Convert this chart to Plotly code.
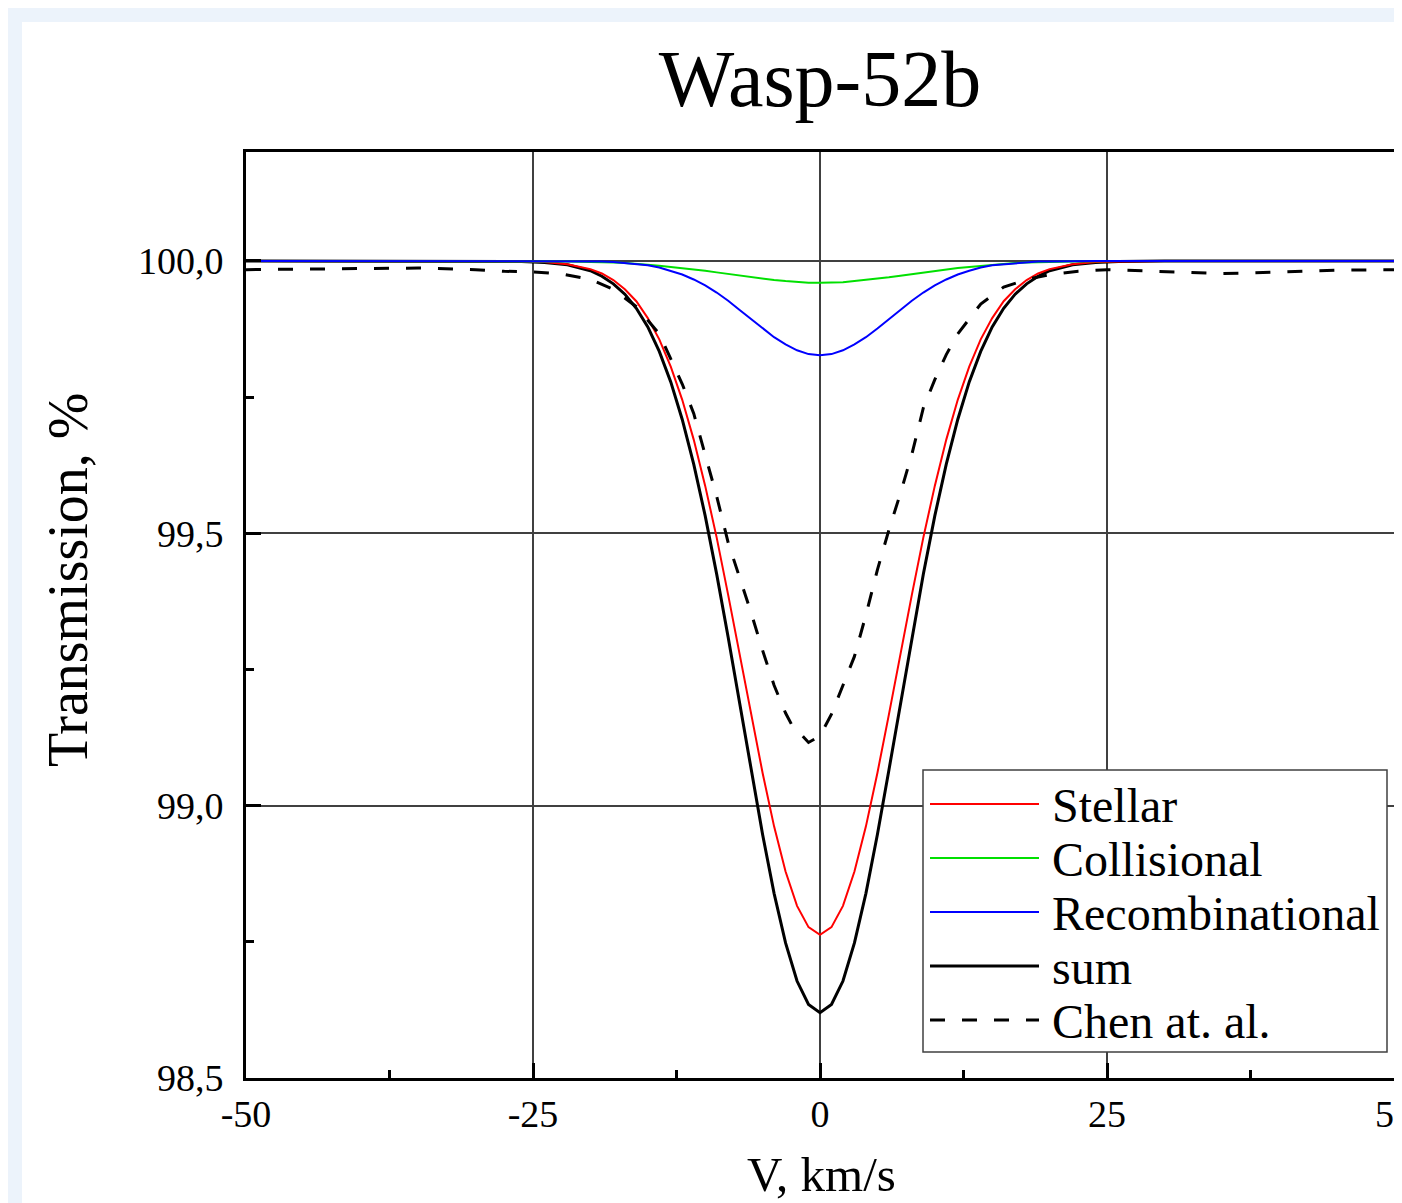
import plotly.graph_objects as go

# ---------------- data ----------------
V = [-50, -40, -30, -26, -24, -22, -20, -19, -18, -17, -16, -15, -14, -13, -12, -11, -10,
     -9, -8, -7, -6, -5, -4, -3, -2, -1, 0, 1, 2, 3, 4, 5, 6, 7, 8, 9,
     10, 11, 12, 13, 14, 15, 16, 17, 18, 19, 20, 22, 24, 26, 30, 40, 50]

stellar = [100.000, 100.000, 100.000, 99.999, 99.998, 99.994, 99.985, 99.977, 99.965, 99.948,
           99.926, 99.895, 99.856, 99.806, 99.745, 99.672, 99.587, 99.492, 99.387, 99.278,
           99.167, 99.060, 98.962, 98.879, 98.816, 98.777, 98.763, 98.777, 98.816, 98.879,
           98.962, 99.060, 99.167, 99.278, 99.387, 99.492, 99.587, 99.672, 99.745, 99.806,
           99.856, 99.895, 99.926, 99.948, 99.965, 99.977, 99.985, 99.994, 99.998, 99.999,
           100.000, 100.000, 100.000]

collisional = [100.000, 100.000, 100.000, 100.000, 100.000, 99.999, 99.998, 99.998, 99.997, 99.996,
               99.995, 99.993, 99.991, 99.989, 99.987, 99.984, 99.982, 99.979, 99.976, 99.973,
               99.970, 99.967, 99.965, 99.963, 99.961, 99.960, 99.960, 99.960, 99.961, 99.963,
               99.965, 99.967, 99.970, 99.973, 99.976, 99.979, 99.982, 99.984, 99.987, 99.989,
               99.991, 99.993, 99.995, 99.996, 99.997, 99.998, 99.998, 99.999, 100.000, 100.000,
               100.000, 100.000, 100.000]

recombinational = [100.000, 100.000, 100.000, 100.000, 100.000, 100.000, 99.999, 99.999, 99.998, 99.996,
                   99.994, 99.992, 99.988, 99.982, 99.975, 99.966, 99.955, 99.942, 99.927, 99.910,
                   99.893, 99.876, 99.860, 99.847, 99.836, 99.829, 99.827, 99.829, 99.836, 99.847,
                   99.860, 99.876, 99.893, 99.910, 99.927, 99.942, 99.955, 99.966, 99.975, 99.982,
                   99.988, 99.992, 99.994, 99.996, 99.998, 99.999, 99.999, 100.000, 100.000, 100.000,
                   100.000, 100.000, 100.000]

total = [100.000, 100.000, 100.000, 99.999, 99.997, 99.993, 99.982, 99.972, 99.958, 99.939,
         99.913, 99.879, 99.834, 99.778, 99.709, 99.627, 99.532, 99.425, 99.309, 99.187,
         99.065, 98.947, 98.839, 98.748, 98.678, 98.635, 98.620, 98.635, 98.678, 98.748,
         98.839, 98.947, 99.065, 99.187, 99.309, 99.425, 99.532, 99.627, 99.709, 99.778,
         99.834, 99.879, 99.913, 99.939, 99.958, 99.972, 99.982, 99.993, 99.997, 99.999,
         100.000, 100.000, 100.000]

chen_v = [-50, -45, -40, -35, -30, -27.5, -25, -22.5, -20, -18, -16, -14, -13, -12, -11, -10,
          -9, -8, -7, -6, -5, -4, -3, -2.5, -1, 0, 1, 2, 3, 4, 5, 6, 7, 8, 9, 10, 11, 12,
          14, 16, 18, 20, 22.5, 25, 27.5, 30, 32.5, 35, 37.5, 40, 45, 50]
chen_t = [99.984, 99.985, 99.986, 99.987, 99.984, 99.981, 99.980, 99.976, 99.966, 99.948,
          99.916, 99.866, 99.820, 99.774, 99.720, 99.645, 99.568, 99.483, 99.419, 99.354,
          99.285, 99.221, 99.170, 99.150, 99.116, 99.128, 99.168, 99.221, 99.274, 99.350,
          99.433, 99.506, 99.573, 99.645, 99.730, 99.782, 99.828, 99.866, 99.921, 99.952,
          99.966, 99.975, 99.981, 99.984, 99.982, 99.980, 99.978, 99.977, 99.978, 99.980,
          99.983, 99.984]

x_ticks = [-50, -25, 0, 25, 50]
x_ticktext = ["-50", "-25", "0", "25", "50"]
x_minor = [-37.5, -12.5, 12.5, 37.5]
y_ticks = [98.5, 99.0, 99.5, 100.0]
y_ticktext = ["98,5", "99,0", "99,5", "100,0"]
y_minor = [98.75, 99.25, 99.75]

legend_names = ["Stellar", "Collisional", "Recombinational", "sum", "Chen at. al."]
legend_colors = ["#ff0000", "#00e000", "#0000ff", "#000000", "#000000"]

FONT = "Liberation Serif, Times New Roman, serif"

# ---------------- figure ----------------
fig = go.Figure()
fig.add_trace(go.Scatter(x=V, y=total, mode="lines", name="sum",
                         line=dict(color="#000000", width=3)))
fig.add_trace(go.Scatter(x=V, y=stellar, mode="lines", name="Stellar",
                         line=dict(color="#ff0000", width=2)))
fig.add_trace(go.Scatter(x=V, y=collisional, mode="lines", name="Collisional",
                         line=dict(color="#00e000", width=2)))
fig.add_trace(go.Scatter(x=V, y=recombinational, mode="lines", name="Recombinational",
                         line=dict(color="#0000ff", width=2)))
fig.add_trace(go.Scatter(x=chen_v, y=chen_t, mode="lines", name="Chen at. al.",
                         line=dict(color="#000000", width=3, dash="15px,17px")))

# page is rendered with an 8px body margin -> work in page pixels, convert to figure pixels
OFF = 8
FIG_W, FIG_H = 1402 - OFF, 1203 - OFF
L, R, T, B = 246 - OFF, 1394 - OFF, 152 - OFF, 1078 - OFF
W, H = R - L, B - T
def px(x):
    return (x - OFF - L) / W
def py(y):
    return (B - (y - OFF)) / H

shapes = []
# white panel on the light-blue page
shapes.append(dict(type="rect", xref="paper", yref="paper", layer="below",
                   x0=px(22), x1=px(1430), y0=py(1240), y1=py(22),
                   fillcolor="white", line=dict(width=0)))
# legend box
shapes.append(dict(type="rect", xref="paper", yref="paper", layer="above",
                   x0=px(923), x1=px(1387), y0=py(1052), y1=py(770),
                   fillcolor="white", line=dict(color="#404040", width=1.5)))
annotations = []
rows = [804, 858, 912, 966, 1020]
for i, (name, col) in enumerate(zip(legend_names, legend_colors)):
    lw = 3 if name in ("sum", "Chen at. al.") else 2
    dash = "15px,17px" if name == "Chen at. al." else "solid"
    shapes.append(dict(type="line", xref="paper", yref="paper", layer="above",
                       x0=px(930), x1=px(1039), y0=py(rows[i]), y1=py(rows[i]),
                       line=dict(color=col, width=lw, dash=dash)))
    annotations.append(dict(text=name, xref="paper", yref="paper",
                            x=px(1050), y=py(rows[i] + 1), xanchor="left", yanchor="middle",
                            showarrow=False, font=dict(family=FONT, size=48, color="black")))

# axis titles
annotations.append(dict(text="Transmission, %", xref="paper", yref="paper",
                        x=px(68), y=py(580), textangle=-90, xanchor="center", yanchor="middle",
                        showarrow=False, font=dict(family=FONT, size=56, color="black")))
annotations.append(dict(text="V, km/s", xref="paper", yref="paper",
                        x=px(821), y=py(1174), xanchor="center", yanchor="middle",
                        showarrow=False, font=dict(family=FONT, size=49, color="black")))

axis_common = dict(showgrid=True, gridcolor="#404040", gridwidth=1.5,
                   showline=True, linecolor="black", linewidth=3, mirror=True,
                   ticks="inside", ticklen=15, tickwidth=2.5, tickcolor="black",
                   zeroline=False, ticklabeloverflow="allow", automargin=False,
                   tickfont=dict(family=FONT, size=38, color="black"))

fig.update_layout(
    width=FIG_W, height=FIG_H, autosize=False,
    margin=dict(l=L, r=FIG_W - R, t=T, b=FIG_H - B, autoexpand=False),
    paper_bgcolor="#ecf3fb", plot_bgcolor="white",
    showlegend=False,
    title=dict(text="Wasp-52b", x=0.5, xref="paper", xanchor="center",
               y=1 - (78 - OFF) / FIG_H, yref="container", yanchor="middle",
               font=dict(family=FONT, size=80, color="black")),
    xaxis=dict(range=[-50, 50], tickmode="array", tickvals=x_ticks, ticktext=x_ticktext,
               minor=dict(tickmode="array", tickvals=x_minor, ticks="inside", ticklen=8,
                          tickwidth=2.5, tickcolor="black", showgrid=False),
               ticklabelstandoff=0, **axis_common),
    yaxis=dict(range=[98.5, 100.2], tickmode="array", tickvals=y_ticks, ticktext=y_ticktext,
               minor=dict(tickmode="array", tickvals=y_minor, ticks="inside", ticklen=8,
                          tickwidth=2.5, tickcolor="black", showgrid=False),
               ticklabelstandoff=12, **axis_common),
    shapes=shapes,
    annotations=annotations,
)

fig.write_html("out.html")
